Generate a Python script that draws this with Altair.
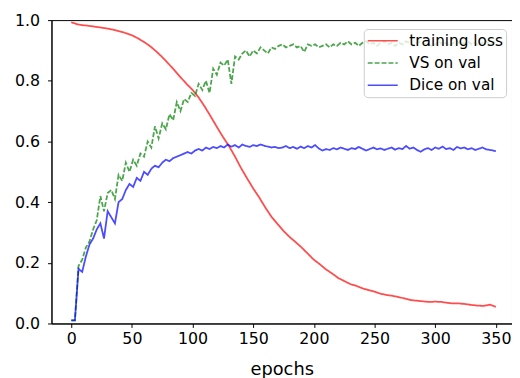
import altair as alt
import pandas as pd

# ---- data ----
series_names = ["training loss", "VS on val", "Dice on val"]
series_colors = ["#ff0000", "#008000", "#0000ff"]

x_ticks = [0, 50, 100, 150, 200, 250, 300, 350]
y_ticks = [0.0, 0.2, 0.4, 0.6, 0.8, 1.0]

loss_epochs = list(range(0, 351, 5))
training_loss = [
    0.993, 0.986, 0.983, 0.981, 0.978, 0.975, 0.972, 0.968, 0.963, 0.957,
    0.950, 0.940, 0.928, 0.914, 0.897, 0.878, 0.857, 0.835, 0.812, 0.790,
    0.770, 0.745, 0.715, 0.682, 0.648, 0.615, 0.585, 0.550, 0.512, 0.478,
    0.445, 0.415, 0.382, 0.352, 0.328, 0.305, 0.285, 0.268, 0.250, 0.230,
    0.210, 0.195, 0.178, 0.165, 0.150, 0.140, 0.130, 0.124, 0.116, 0.110,
    0.105, 0.098, 0.094, 0.091, 0.087, 0.082, 0.077, 0.075, 0.073, 0.071,
    0.072, 0.071, 0.068, 0.066, 0.066, 0.064, 0.061, 0.059, 0.058, 0.062,
    0.055,
]

val_epochs = list(range(0, 349, 3)) + [350]
vs_on_val = [
    0.01, 0.01, 0.19, 0.21, 0.25, 0.27, 0.31, 0.34, 0.42, 0.37,
    0.43, 0.44, 0.41, 0.49, 0.47, 0.53, 0.50, 0.54, 0.52, 0.56,
    0.55, 0.60, 0.58, 0.65, 0.61, 0.66, 0.64, 0.69, 0.67, 0.73,
    0.70, 0.74, 0.73, 0.76, 0.75, 0.79, 0.77, 0.80, 0.76, 0.84,
    0.82, 0.86, 0.85, 0.87, 0.79, 0.88, 0.87, 0.89, 0.90, 0.88,
    0.90, 0.89, 0.91, 0.90, 0.89, 0.91, 0.905, 0.915, 0.92, 0.91,
    0.915, 0.92, 0.91, 0.915, 0.895, 0.92, 0.915, 0.92, 0.91, 0.915,
    0.92, 0.91, 0.92, 0.915, 0.925, 0.92, 0.93, 0.92, 0.925, 0.915,
    0.925, 0.93, 0.92, 0.925, 0.915, 0.925, 0.93, 0.92, 0.925, 0.915,
    0.925, 0.92, 0.93, 0.925, 0.915, 0.925, 0.93, 0.92, 0.925, 0.915,
    0.92, 0.93, 0.92, 0.925, 0.915, 0.925, 0.93, 0.92, 0.925, 0.93,
    0.92, 0.925, 0.915, 0.925, 0.93, 0.92, 0.925, 0.93,
]
dice_on_val = [
    0.01, 0.01, 0.18, 0.17, 0.22, 0.26, 0.28, 0.31, 0.33, 0.28,
    0.37, 0.35, 0.33, 0.40, 0.41, 0.44, 0.46, 0.45, 0.48, 0.47,
    0.50, 0.49, 0.51, 0.52, 0.515, 0.53, 0.54, 0.535, 0.545, 0.55,
    0.555, 0.56, 0.565, 0.56, 0.57, 0.575, 0.57, 0.58, 0.575, 0.582,
    0.578, 0.585, 0.58, 0.59, 0.583, 0.588, 0.58, 0.59, 0.585, 0.582,
    0.588, 0.585, 0.59, 0.586, 0.583, 0.58, 0.582, 0.578, 0.58, 0.585,
    0.578, 0.582, 0.576, 0.583, 0.578, 0.585, 0.58, 0.588, 0.577, 0.57,
    0.575, 0.572, 0.578, 0.574, 0.58, 0.576, 0.572, 0.578, 0.575, 0.582,
    0.576, 0.57, 0.575, 0.58, 0.574, 0.577, 0.572, 0.576, 0.58, 0.573,
    0.578, 0.575, 0.585, 0.576, 0.58, 0.572, 0.566, 0.574, 0.578, 0.572,
    0.58, 0.576, 0.583, 0.575, 0.578, 0.572, 0.582, 0.577, 0.58, 0.574,
    0.578, 0.572, 0.576, 0.58, 0.574, 0.572, 0.57, 0.568,
]

rows = []
for e, v in zip(loss_epochs, training_loss):
    rows.append({"epoch": e, "value": v, "series": series_names[0], "order": 0})
for e, v in zip(val_epochs, vs_on_val):
    rows.append({"epoch": e, "value": v, "series": series_names[1], "order": 1})
for e, v in zip(val_epochs, dice_on_val):
    rows.append({"epoch": e, "value": v, "series": series_names[2], "order": 2})
df = pd.DataFrame(rows)

FONT = "DejaVu Sans"

legend_spec = dict(
    title=None,
    orient="none",
    legendX=316,
    legendY=9,
    labelFont=FONT,
    labelFontSize=15.5,
    labelColor="black",
    symbolType="M-1,0H2.8",
    symbolSize=256,
    symbolStrokeWidth=1.5,
    symbolOpacity=0.7,
    labelOffset=25,
    padding=3,
    rowPadding=4.5,
    fillColor="rgba(255,255,255,0.8)",
    strokeColor="#cccccc",
    cornerRadius=4,
)

chart = (
    alt.Chart(df)
    .mark_line(strokeWidth=1.8, opacity=0.7, clip=True)
    .encode(
        x=alt.X(
            "epoch:Q",
            scale=alt.Scale(domain=[-16.3, 363.3], nice=False, zero=False),
            axis=alt.Axis(values=x_ticks, title="epochs", grid=False, format="d"),
        ),
        y=alt.Y(
            "value:Q",
            scale=alt.Scale(domain=[0, 1], nice=False),
            axis=alt.Axis(values=y_ticks, title=None, grid=False, format=".1f"),
        ),
        color=alt.Color(
            "series:N",
            scale=alt.Scale(domain=series_names, range=series_colors),
            legend=alt.Legend(**legend_spec),
        ),
        strokeDash=alt.StrokeDash(
            "series:N",
            scale=alt.Scale(domain=series_names, range=[[1, 0], [5, 2], [1, 0]]),
            legend=alt.Legend(**legend_spec),
        ),
        order=alt.Order("order:Q"),
    )
    .properties(
        width=466,
        height=307,
        autosize=alt.AutoSizeParams(type="none"),
        padding={"left": 44, "top": 10, "right": 0, "bottom": 60},
    )
    .configure_view(stroke="black", strokeWidth=1)
    .configure_axis(
        domainColor="black",
        tickColor="black",
        tickSize=4,
        labelFont=FONT,
        labelFontSize=16,
        labelColor="black",
        titleFont=FONT,
        titleFontSize=18,
        titleFontWeight="normal",
        titleColor="black",
    )
    .configure_axisX(labelPadding=3, titlePadding=15)
    .configure_axisY(labelPadding=8)
)

chart.save("out.html", embed_options={"renderer": "svg", "actions": False})
